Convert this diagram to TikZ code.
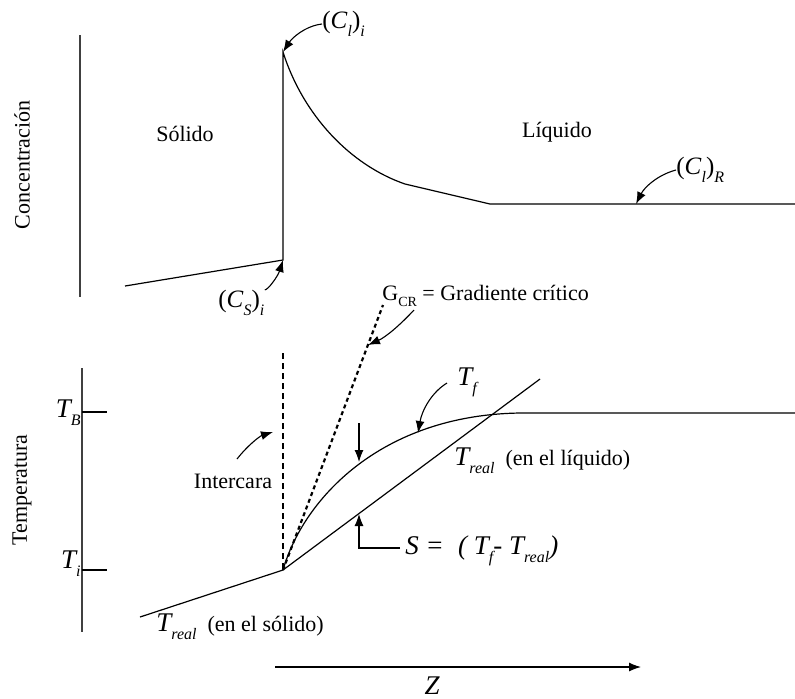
\documentclass[tikz,border=0pt]{standalone}
\usepackage{fontspec}
\setmainfont{Liberation Serif}
\usetikzlibrary{arrows.meta}
\newcommand{\bT}[1]{{\fontsize{13.5}{14}\selectfont\itshape #1}}
\newcommand{\sbs}[1]{\raisebox{-4pt}{\fontsize{8}{8}\selectfont\itshape #1}}
\newcommand{\sbu}[1]{\raisebox{-3pt}{\fontsize{7}{7}\selectfont #1}}
\tikzset{
  ln/.style={line width=0.6pt},
  axisln/.style={line width=0.6pt, draw=black!75},
  tick/.style={line width=1.1pt},
  arr/.style={line width=0.55pt, -{Latex[length=6pt,width=4.5pt]}},
  lbl/.style={inner sep=0pt, font=\fontsize{11}{13}\selectfont},
}
\begin{document}
\begin{tikzpicture}[x=0.5pt,y=-0.5pt]
\useasboundingbox (0,0) rectangle (795,698);
% ---------- upper: concentration ----------
\draw[axisln] (80,35) -- (80,297);
\node[lbl, rotate=90] (conc) at (22,165) {Concentración};
\coordinate (ctop) at (283,52);
\coordinate (cbot) at (283,260);
\coordinate (csl) at (125,286);
\coordinate (ck1) at (405,184);
\coordinate (ck2) at (490,204);
\coordinate (cend) at (795,204);
\coordinate (cR) at (636,204);
\draw[ln] (csl) -- (cbot) -- (ctop) .. controls (303,115) and (350,165) .. (ck1) -- (ck2) -- (cend);
\node[lbl] (sol) at (185,134) {Sólido};
\node[lbl] (liq) at (557,132) {Líquido};
\node[lbl, anchor=west] (cli) at (322,24) {\fontsize{12.5}{13}\selectfont(\textit{C}\sbs{l})\sbs{i}};
\node[lbl, anchor=west] (clR) at (676,170) {\fontsize{12.5}{13}\selectfont(\textit{C}\sbs{l})\sbs{R}};
\node[lbl, anchor=west] (csi) at (218,303) {\fontsize{12.5}{13}\selectfont(\textit{C}\sbs{S})\sbs{i}};
\draw[arr] (cli.west) .. controls (305,26) and (292,38) .. (ctop);
\draw[arr] (clR.west) .. controls (657,175) and (644,188) .. (cR);
\draw[arr] (csi.north east) .. controls (268,290) and (278,276) .. (cbot);
% ---------- lower: temperature ----------
\draw[axisln] (82,368) -- (82,632);
\node[lbl, rotate=90] (temp) at (22,490) {Temperatura};
\coordinate (tb0) at (82,412);
\coordinate (tb1) at (107,412);
\coordinate (ti0) at (82,570);
\coordinate (ti1) at (107,570);
\draw[tick] (tb0) -- (tb1);
\draw[tick] (ti0) -- (ti1);
\node[lbl, anchor=east] (TB) at (81,413) {\bT{T}\sbs{B}};
\node[lbl, anchor=east] (Ti) at (81,564) {\bT{T}\sbs{i}};
% interface
\coordinate (o) at (283,570);
\coordinate (dtop) at (283,353);
\draw[ln, dash pattern=on 3pt off 2pt] (dtop) -- (o);
\node[lbl] (inter) at (233,481) {Intercara};
\coordinate (inst) at (237,459);
\coordinate (intip) at (273,432);
\draw[arr] (inst) .. controls (248,445) and (260,436) .. (intip);
% critical gradient
\coordinate (gtop) at (383,305);
\draw[line width=1.1pt, dash pattern=on 2pt off 1.6pt] (o) -- (gtop);
\node[lbl, anchor=west] (gcr) at (382,296) {G\sbu{CR} = Gradiente crítico};
\coordinate (gtip) at (368,345);
\coordinate (gst) at (414,310);
\draw[arr] (gst) .. controls (400,325) and (386,337) .. (gtip);
% solid T real
\coordinate (sl) at (140,617);
\draw[ln] (sl) -- (o);
% liquid T real
\coordinate (lend) at (540,379);
\draw[ln] (o) -- (lend);
% liquidus T_f
\coordinate (pl) at (520,413);
\coordinate (pend) at (795,413);
\draw[ln] (o) .. controls (303,500) and (380,415) .. (pl) -- (pend);
\node[lbl, anchor=west] (Tf) at (457,382) {\bT{T}\sbs{f}};
\coordinate (tfst) at (447,383);
\coordinate (tftip) at (418,433);
\draw[arr] (tfst) .. controls (432,392) and (422,410) .. (tftip);
% down arrow
\coordinate (dst) at (359,423);
\coordinate (dtip) at (359,462);
\draw[arr] (dst) -- (dtip);
% S arrow
\coordinate (sst) at (400,548);
\coordinate (scor) at (359,548);
\coordinate (stip) at (359,514);
\draw[arr] (sst) -- (scor) -- (stip);
\node[lbl, anchor=west] (S) at (405,551) {\bT{S =\; ( T}\sbs{f}\bT{- T}\sbs{real}\bT{)}};
\node[lbl, anchor=west] (trl) at (454,461) {\bT{T}\sbs{real}\ \ (en el líquido)};
\node[lbl, anchor=west] (trs) at (156,627) {\bT{T}\sbs{real}\ \ (en el sólido)};
% Z axis
\coordinate (z0) at (275,667);
\coordinate (z1) at (641,667);
\draw[arr] (z0) -- (z1);
\node[lbl, anchor=base] (Z) at (432,694) {\bT{Z}};
\end{tikzpicture}
\end{document}
